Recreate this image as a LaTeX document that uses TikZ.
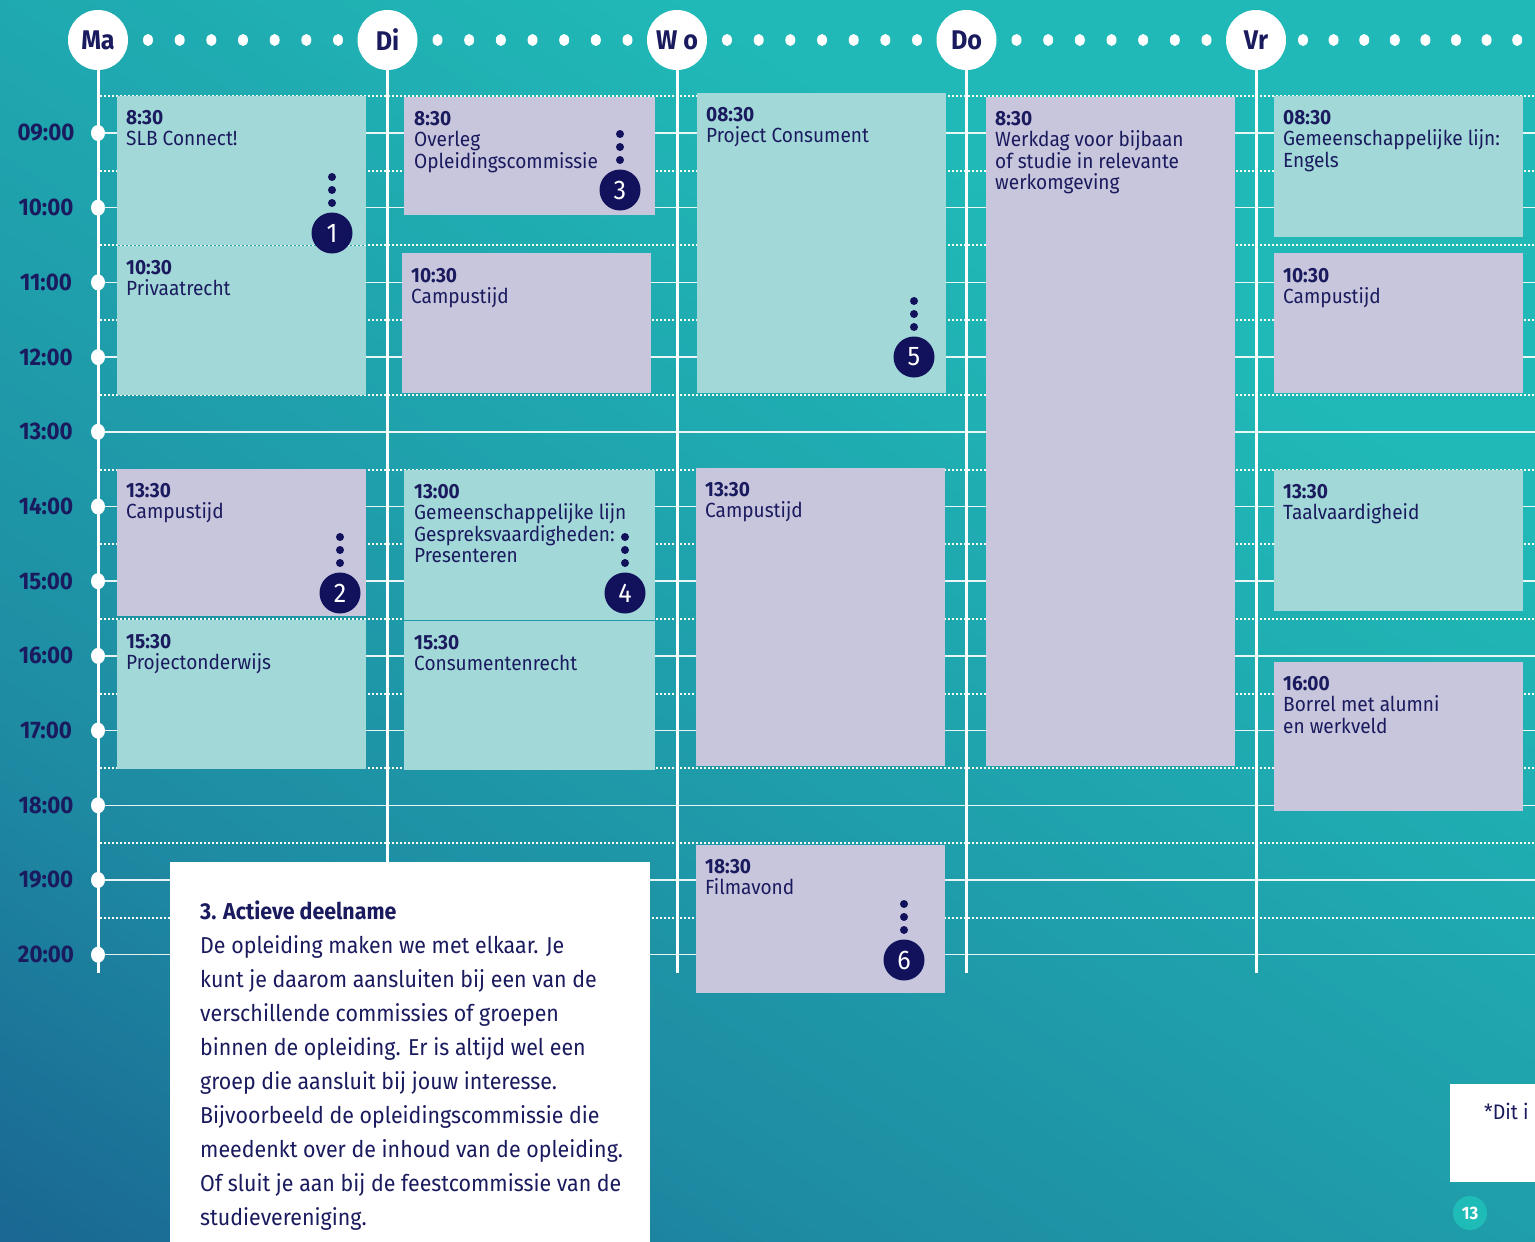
\documentclass[tikz,border=0pt]{standalone}
\usepackage{fontspec}
\setmainfont[FakeStretch=0.93]{Fira Sans}
\usetikzlibrary{positioning}
\definecolor{navy}{HTML}{1A1A5E}
\definecolor{badgeblue}{HTML}{12125C}
\definecolor{mint}{HTML}{A2D9D8}
\definecolor{lilac}{HTML}{C8C6DC}
\definecolor{bgtop}{HTML}{20B9B7}
\definecolor{bgmid}{HTML}{1FA3AD}
\definecolor{bglow}{HTML}{1E8CA3}
\definecolor{bgdark}{HTML}{1A6893}
\definecolor{pageteal}{HTML}{1FBBB6}
\pgfdeclareverticalshading{pagebg}{100bp}{color(0bp)=(bgdark);
    color(16bp)=(bgdark); color(32bp)=(bglow); color(50bp)=(bgmid);
    color(68bp)=(bgtop); color(100bp)=(bgtop)}
\tikzset{
    daylabel/.style={circle, fill=white, minimum size=60pt, inner sep=0pt,
        text=navy, font=\fontsize{27}{27}\selectfont\bfseries},
    hourlabel/.style={text=navy, font=\fontsize{24}{24}\selectfont\bfseries},
    hourline/.style={white, line width=1.5pt, opacity=.9},
    halfline/.style={white, line width=2pt, dash pattern=on 2pt off 2pt},
    dayline/.style={white, line width=3pt},
    evbox/.style={anchor=north west, inner sep=0pt, minimum width=249pt},
    evtext/.style={inner sep=0pt, align=left, text=navy,
        font=\fontsize{20.5}{21.5}\selectfont},
    infotext/.style={inner sep=0pt, align=left, text=navy,
        font=\fontsize{23}{34}\selectfont},
    badge/.pic={
        \foreach \d in {30, 43, 56} \fill[badgeblue] (0, -\d) circle (4pt);
        \node[circle, fill=badgeblue, text=white, minimum size=41pt,
            inner sep=0pt, font=\fontsize{27}{27}\selectfont] (-num) {#1};
    },
}

\begin{document}
\begin{tikzpicture}[x=1pt, y=-1pt]
    \useasboundingbox (0, 0) rectangle (1535, 1242);
    \clip (0, 0) rectangle (1535, 1242);
    \shade[shading=pagebg, shading angle=-32] (0, 0) rectangle (1535, 1242);
    % grid
    \foreach \k in {0, ..., 11}
        \draw[halfline] (100, {96+74.7*\k}) -- (1535, {96+74.7*\k});
    \foreach \k/\t in {0/09:00, 1/10:00, 2/11:00, 3/12:00, 4/13:00, 5/14:00,
            6/15:00, 7/16:00, 8/17:00, 9/18:00, 10/19:00, 11/20:00} {
        \draw[hourline] (98, {133+74.7*\k}) -- (1535, {133+74.7*\k});
        \node[hourlabel] (t\k) at (46, {133+74.7*\k}) {\t};
    }
    % days
    \foreach \n/\d [count=\i from 0] in {ma/Ma, di/Di, wo/W o, do/Do, vr/Vr}
        \node[daylabel] (\n) at ({98+289.5*\i}, 40) {\d};
    \foreach \n in {ma, di, wo, do, vr}
        \draw[dayline] (\n.south) -- (\n.south |- 0, 973);
    \foreach \k in {0, ..., 11}
        \fill[white] (98, {133+74.7*\k}) ellipse (7pt and 8pt);
    \foreach \i in {0, ..., 3}
        \foreach \j in {0, ..., 6}
            \fill[white] ({148+289.5*\i+31.67*\j}, 40) ellipse (5pt and 6pt);
    \foreach \j in {0, ..., 7}
        \fill[white] ({1303+30.6*\j}, 40) ellipse (5pt and 6pt);
    % Ma
    \node[evbox, fill=mint, minimum height=149pt] (slb) at (117, 96) {};
    \node[evtext, below right=14pt and 9pt of slb.north west] (slbtxt)
        {\textbf{8:30}\\SLB Connect!};
    \node[evbox, fill=mint, minimum height=149pt] (priv) at (117, 246) {};
    \node[evtext, below right=14pt and 9pt of priv.north west] (privtxt)
        {\textbf{10:30}\\Privaatrecht};
    \node[evbox, fill=lilac, minimum height=147pt] (campma) at (117, 469) {};
    \node[evtext, below right=14pt and 9pt of campma.north west] (campmatxt)
        {\textbf{13:30}\\Campustijd};
    \node[evbox, fill=mint, minimum height=149pt] (proj) at (117, 620) {};
    \node[evtext, below right=14pt and 9pt of proj.north west] (projtxt)
        {\textbf{15:30}\\Projectonderwijs};
    % Di
    \node[evbox, fill=lilac, minimum width=251pt, minimum height=118pt]
        (overleg) at (404, 97) {};
    \node[evtext, below right=14pt and 10pt of overleg.north west] (overlegtxt)
        {\textbf{8:30}\\Overleg\\Opleidingscommissie};
    \node[evbox, fill=lilac, minimum height=140pt] (campdi) at (402, 253) {};
    \node[evtext, below right=15pt and 9pt of campdi.north west] (campditxt)
        {\textbf{10:30}\\Campustijd};
    \node[evbox, fill=mint, minimum width=251pt, minimum height=150pt]
        (gespr) at (404, 470) {};
    \node[evtext, below right=14pt and 10pt of gespr.north west] (gesprtxt)
        {\textbf{13:00}\\Gemeenschappelijke lijn\\Gespreksvaardigheden:\\Presenteren};
    \node[evbox, fill=mint, minimum width=251pt, minimum height=149pt]
        (consu) at (404, 621) {};
    \node[evtext, below right=14pt and 10pt of consu.north west] (consutxt)
        {\textbf{15:30}\\Consumentenrecht};
    % Wo
    \node[evbox, fill=mint, minimum height=300pt] (projc) at (697, 93) {};
    \node[evtext, below right=14pt and 9pt of projc.north west] (projctxt)
        {\textbf{08:30}\\Project Consument};
    \node[evbox, fill=lilac, minimum height=298pt] (campwo) at (696, 468) {};
    \node[evtext, below right=14pt and 9pt of campwo.north west] (campwotxt)
        {\textbf{13:30}\\Campustijd};
    \node[evbox, fill=lilac, minimum height=148pt] (film) at (696, 845) {};
    \node[evtext, below right=14pt and 9pt of film.north west] (filmtxt)
        {\textbf{18:30}\\Filmavond};
    % Do
    \node[evbox, fill=lilac, minimum height=669pt] (werk) at (986, 97) {};
    \node[evtext, below right=14pt and 9pt of werk.north west] (werktxt)
        {\textbf{8:30}\\Werkdag voor bijbaan\\of studie in relevante\\werkomgeving};
    % Vr
    \node[evbox, fill=mint, minimum height=141pt] (engels) at (1274, 96) {};
    \node[evtext, below right=14pt and 9pt of engels.north west] (engelstxt)
        {\textbf{08:30}\\Gemeenschappelijke lijn:\\Engels};
    \node[evbox, fill=lilac, minimum height=140pt] (campvr) at (1274, 253) {};
    \node[evtext, below right=15pt and 9pt of campvr.north west] (campvrtxt)
        {\textbf{10:30}\\Campustijd};
    \node[evbox, fill=mint, minimum height=141pt] (taal) at (1274, 470) {};
    \node[evtext, below right=14pt and 9pt of taal.north west] (taaltxt)
        {\textbf{13:30}\\Taalvaardigheid};
    \node[evbox, fill=lilac, minimum height=149pt] (borrel) at (1274, 662) {};
    \node[evtext, below right=14pt and 9pt of borrel.north west] (borreltxt)
        {\textbf{16:00}\\Borrel met alumni\\en werkveld};
    % badges
    \pic (b1) at (332, 233) {badge=1};
    \pic (b2) at (340, 593) {badge=2};
    \pic (b3) at (620, 190) {badge=3};
    \pic (b4) at (625, 593) {badge=4};
    \pic (b5) at (914, 357) {badge=5};
    \pic (b6) at (904, 960) {badge=6};
    % info boxes
    \node[fill=white, anchor=north west, inner sep=0pt, minimum width=480pt,
        minimum height=385pt] (info) at (170, 862) {};
    \node[infotext, below right=39pt and 30pt of info.north west] (infotxt)
        {\textbf{3. Actieve deelname}\\
        De opleiding maken we met elkaar. Je\\
        kunt je daarom aansluiten bij een van de\\
        verschillende commissies of groepen\\
        binnen de opleiding. Er is altijd wel een\\
        groep die aansluit bij jouw interesse.\\
        Bijvoorbeeld de opleidingscommissie die\\
        meedenkt over de inhoud van de opleiding.\\
        Of sluit je aan bij de feestcommissie van de\\
        studievereniging.};
    \node[fill=white, anchor=north west, inner sep=0pt, minimum width=90pt,
        minimum height=98pt] (note) at (1450, 1084) {};
    \node[anchor=north west, inner sep=0pt, text=navy,
        font=\fontsize{21}{21}\selectfont] (notetxt) at (1484, 1103) {*Dit i};
    \node[circle, fill=pageteal, minimum size=34pt, inner sep=0pt, text=white,
        font=\fontsize{18}{18}\selectfont\bfseries] (pagenr) at (1470, 1213) {13};
\end{tikzpicture}
\end{document}
